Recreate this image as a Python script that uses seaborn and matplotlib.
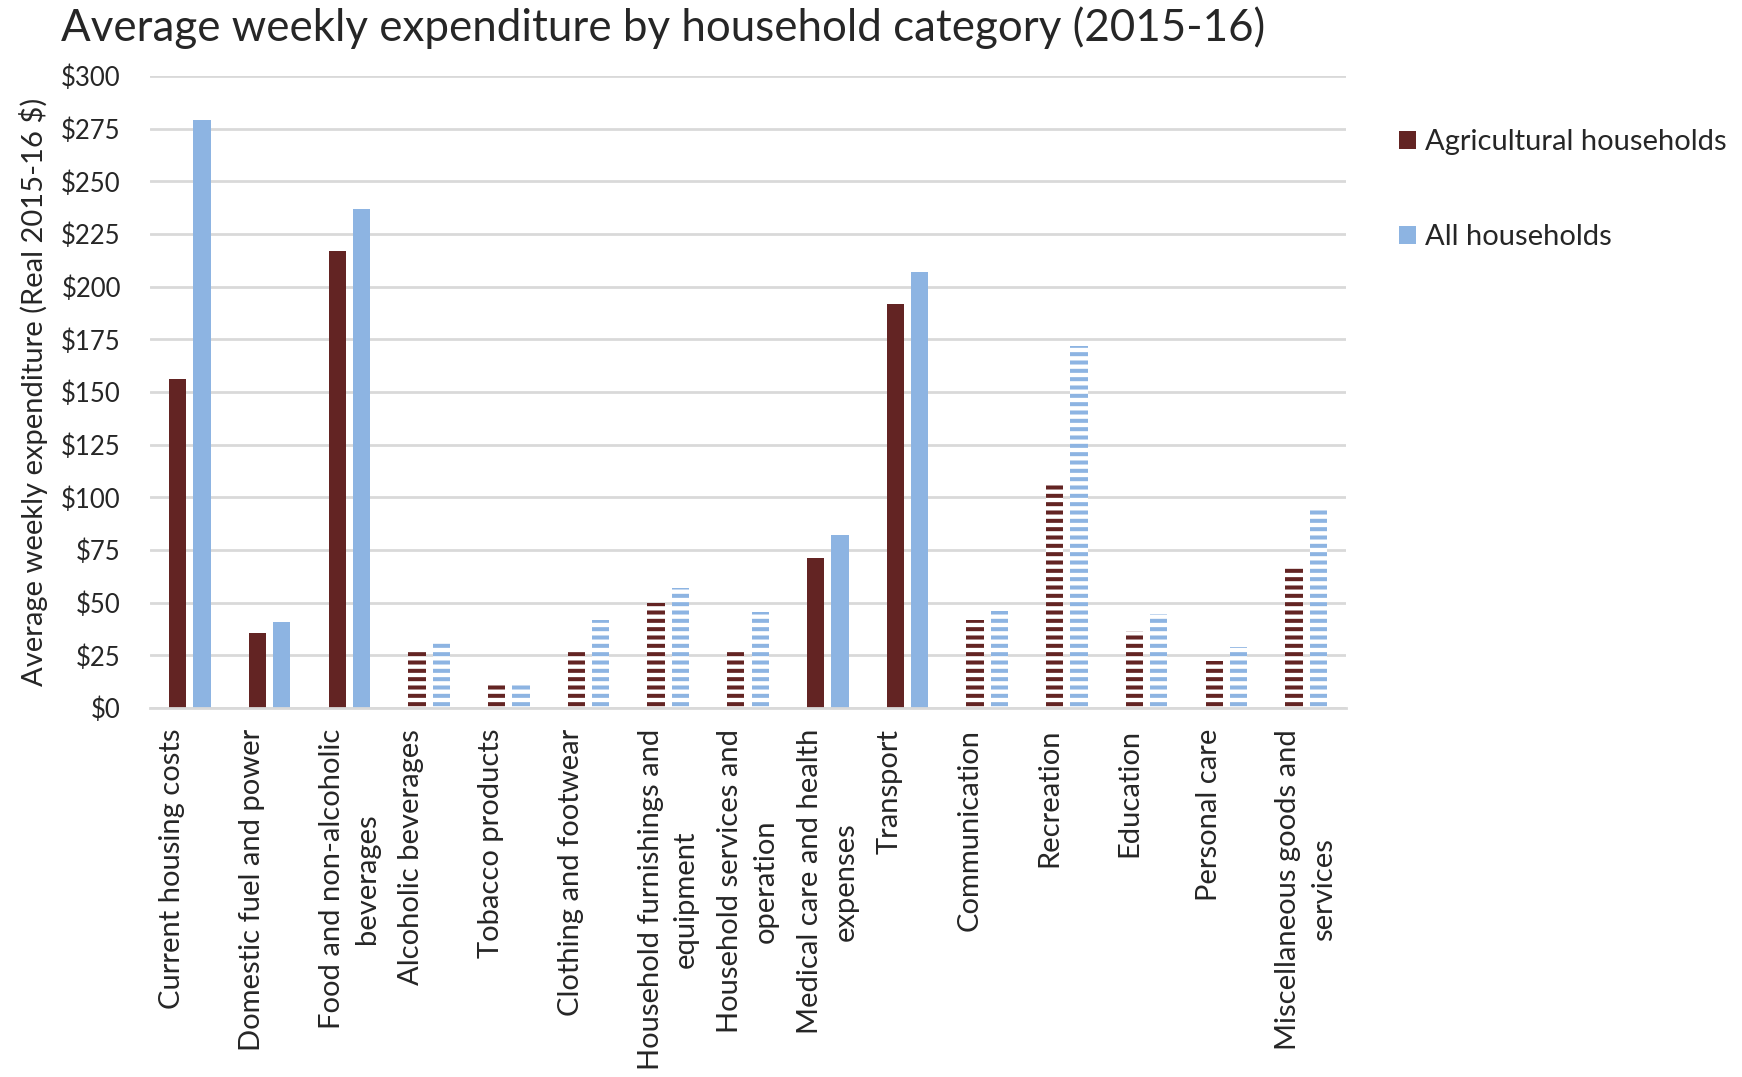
import pandas as pd
import seaborn as sns
import matplotlib.pyplot as plt
from matplotlib.patches import Patch

categories = [
    "Current housing costs", "Domestic fuel and power", "Food and non-alcoholic\nbeverages",
    "Alcoholic beverages", "Tobacco products", "Clothing and footwear",
    "Household furnishings and\nequipment", "Household services and\noperation",
    "Medical care and health\nexpenses", "Transport", "Communication", "Recreation",
    "Education", "Personal care", "Miscellaneous goods and\nservices",
]
agricultural = [156, 35.5, 217, 27, 11, 27, 50, 27, 71, 192, 42, 107, 36.5, 22.5, 67]
all_households = [279, 41, 237, 31, 11.5, 42, 57, 45.5, 82, 207, 46, 172, 44.5, 29, 95.5]
hatched = [False, False, False, True, True, True, True, True, False, False, True, True, True, True, True]
series = ["Agricultural households", "All households"]
colors = ["#632423", "#8DB4E2"]

df = pd.DataFrame({
    "category": categories * 2,
    "value": agricultural + all_households,
    "group": [series[0]] * len(categories) + [series[1]] * len(categories),
})

sns.set_theme(style="white")
plt.rcParams["font.family"] = ["Lato", "DejaVu Sans"]
plt.rcParams["hatch.linewidth"] = 2.9

fig = plt.figure(figsize=(17.42, 10.77), dpi=100)
ax = fig.add_axes([0.0861, 0.3426, 0.6866, 0.5868])

sns.barplot(data=df, x="category", y="value", hue="group", palette=colors,
            width=0.61, gap=0.29, saturation=1, legend=False, ax=ax)

# striped bars: white fill with horizontal coloured lines
for container, col in zip(ax.containers, colors):
    for bar, h in zip(container, hatched):
        bar.set_linewidth(0)
        if h:
            bar.set_facecolor("white")
            bar.set_edgecolor(col)
            bar.set_hatch("--")
            if hasattr(bar, "set_hatch_linewidth"):
                bar.set_hatch_linewidth(2.9)

ax.set_ylim(0, 300)
ax.set_yticks(range(0, 301, 25))
ax.set_yticklabels([f"${v}" for v in range(0, 301, 25)], fontsize=18.5)
ax.yaxis.grid(True, color="#D9D9D9", linewidth=2)
ax.set_axisbelow(True)
for s in ["top", "right", "left"]:
    ax.spines[s].set_visible(False)
ax.spines["bottom"].set_color("#D9D9D9")
ax.spines["bottom"].set_linewidth(2)
ax.tick_params(axis="y", length=0, pad=21)
ax.tick_params(axis="x", length=0, pad=15)

labels = [c if "\n" in c else c + "\n " for c in categories]
ax.set_xticks(range(len(categories)))
ax.set_xticklabels(labels, rotation=90, fontsize=21, ha="center", va="top",
                   multialignment="center", linespacing=1.45)
ax.set_xlabel("")
ax.set_ylabel("Average weekly expenditure (Real 2015-16 $)", fontsize=21)
ax.yaxis.set_label_coords(-0.085, 0.5)

fig.text(0.035, 0.962, "Average weekly expenditure by household category (2015-16)",
         fontsize=31.6, ha="left", va="baseline")

handles = [Patch(facecolor=c, edgecolor="none") for c in colors]
fig.legend(handles, series, loc="upper left", bbox_to_anchor=(0.803, 0.880),
           frameon=False, fontsize=21, handlelength=0.6, handleheight=0.6,
           handletextpad=0.3, labelspacing=2.37, borderaxespad=0, borderpad=0)

fig.savefig("out.png", dpi=100)
